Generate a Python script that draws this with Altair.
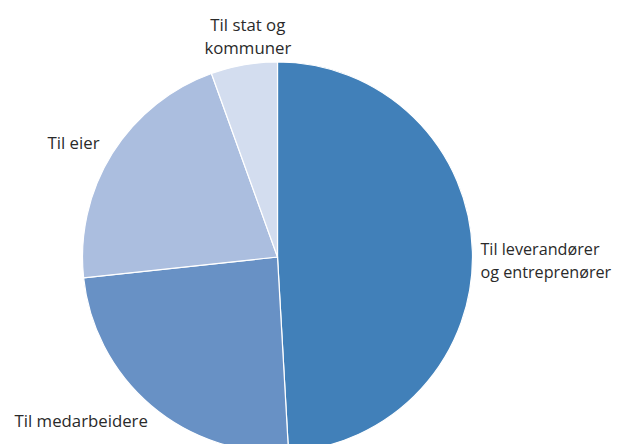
import altair as alt
import pandas as pd

labels = ["Til leverandører\nog entreprenører", "Til medarbeidere", "Til eier", "Til stat og\nkommuner"]
values = [49.1, 24.2, 21.2, 5.5]
order = [1, 2, 3, 4]
colors = ["#4180b9", "#6891c5", "#abbedf", "#d3ddef"]

df = pd.DataFrame({"label": labels, "value": values, "order": order})

CX, CY, R = 269.5, 249, 195
FONT = "Open Sans"

base = alt.Chart(df)

arc = base.mark_arc(stroke="white", strokeWidth=1.2).encode(
    theta=alt.Theta("value:Q", stack=True),
    order=alt.Order("order:Q"),
    color=alt.Color("label:N", scale=alt.Scale(domain=labels, range=colors), legend=None),
    x=alt.value(CX),
    y=alt.value(CY),
    radius=alt.value(R),
)

lab = base.transform_window(
    cum="sum(value)", sort=[alt.SortField("order")], frame=[None, 0]
).transform_calculate(mid="datum.cum - datum.value / 2")


def text_layer(name, radius, align, dx=0, dy=0, size=16.8):
    return lab.transform_filter(alt.datum.label == name).mark_text(
        align=align, baseline="middle", font=FONT, fontSize=size, color="#2a2a2a",
        lineBreak="\n", lineHeight=23, dx=dx, dy=dy,
    ).encode(
        theta=alt.Theta("mid:Q", stack=None),
        text="label:N",
        x=alt.value(CX),
        y=alt.value(CY),
        radius=alt.value(radius),
    )


chart = alt.layer(
    arc,
    text_layer(labels[0], 206, "left", dx=-3, dy=-1, size=16.2),
    text_layer(labels[1], 208, "right", dx=5, dy=6),
    text_layer(labels[2], 210, "right", dy=-2),
    text_layer(labels[3], 225, "center", dx=9, dy=-9),
).properties(
    width=606, height=436, padding=0,
    autosize=alt.AutoSizeParams(type="none"),
).configure_view(stroke=None)

chart.save("out.html", embed_options={"renderer": "svg", "actions": False})
